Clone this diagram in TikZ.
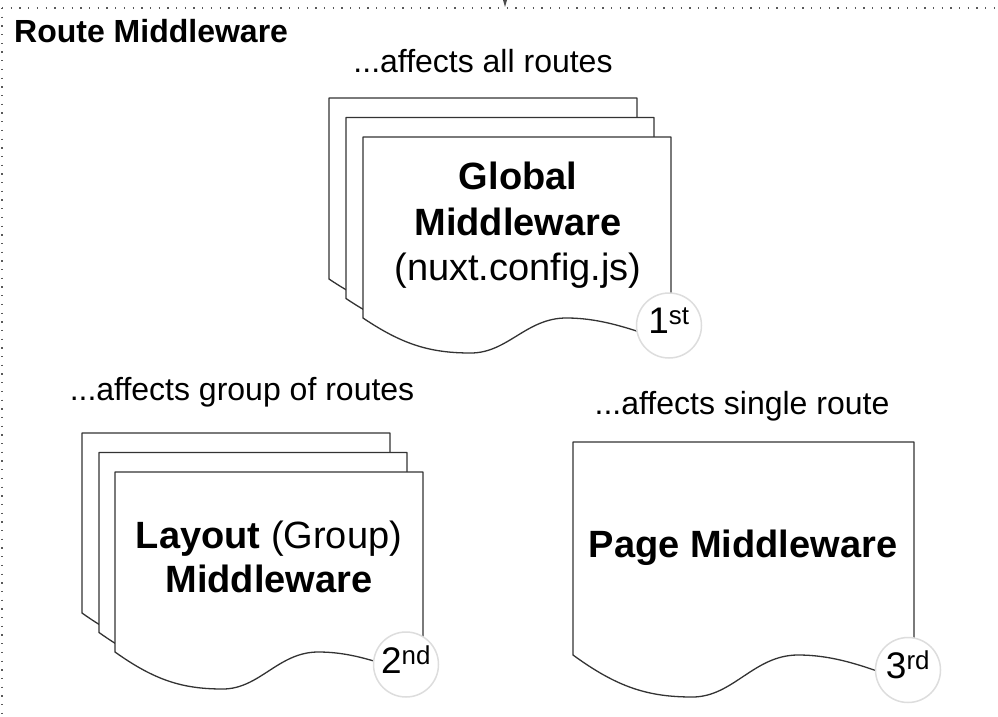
\documentclass[tikz,border=0pt]{standalone}
\usepackage{fontspec}
\setmainfont{Liberation Sans}

\definecolor{pageline}{HTML}{333333}
\definecolor{badgeline}{HTML}{DDDDDD}

\tikzset{
  docline/.style={draw=pageline, fill=white, line width=1.3pt, line join=round},
  frame/.style={draw=black!65, line width=1.3pt, dash pattern=on 1.3pt off 7.4pt},
  badge/.style={circle, draw=badgeline, fill=white, line width=1.5pt, minimum size=65pt,
    inner sep=0pt, font=\fontsize{37}{44}\selectfont, text depth=10pt},
  boxtext/.style={anchor=base, inner sep=0pt, font=\fontsize{38}{45}\selectfont},
  note/.style={anchor=base, inner sep=0pt, font=\fontsize{32}{38}\selectfont},
}

% page with a wavy bottom: left, top, width, height at left, wave depth
\newcommand{\docpage}[5]{%
  \draw[docline] (#1,#2) -- ({#1+#3},#2) -- ({#1+#3},{#2+#4+0.7*#5})
    .. controls ({#1+0.88*#3},{#2+#4+0.35*#5}) and ({#1+0.78*#3},{#2+#4}) .. ({#1+0.66*#3},{#2+#4})
    .. controls ({#1+0.53*#3},{#2+#4}) and ({#1+0.47*#3},{#2+#4+#5}) .. ({#1+0.35*#3},{#2+#4+#5})
    .. controls ({#1+0.22*#3},{#2+#4+#5}) and ({#1+0.13*#3},{#2+#4+0.77*#5}) .. (#1,{#2+#4})
    -- cycle;}

\begin{document}
\begin{tikzpicture}[x=1pt, y=-1pt]
    \useasboundingbox (0,0) rectangle (998,717);
    \clip (0,0) rectangle (998,717);

    % Outer frame
    \draw[frame] (2,8) -- (1005,8);
    \draw[frame] (2,8) -- (2,725);
    \fill[black!70] (503,0) -- (507,0) -- (505,7) -- cycle;
    \node (title) at (14,43) [anchor=base west, inner sep=0pt, font=\fontsize{32}{38}\selectfont\bfseries] {Route Middleware};

    % Global middleware stack
    \node (allnote) at (483,73) [note] {...affects all routes};
    \docpage{329}{98}{308}{181}{35}
    \docpage{346}{117.5}{308}{181}{35}
    \docpage{363}{137}{308}{181}{35}
    \node (glob1) at (518,189) [boxtext] {\textbf{Global}};
    \node (glob2) at (518,235) [boxtext] {\textbf{Middleware}};
    \node (glob3) at (518,280) [boxtext] {(nuxt.config.js)};
    \node (first) at (669,325.5) [badge] {1\textsuperscript{st}};

    % Layout middleware stack
    \node (groupnote) at (242,400) [note] {...affects group of routes};
    \docpage{82}{433}{308}{180}{37}
    \docpage{99}{452.5}{308}{180}{37}
    \docpage{115}{472}{308}{180}{37}
    \node (lay1) at (269,548) [boxtext] {\textbf{Layout} (Group)};
    \node (lay2) at (269,592) [boxtext] {\textbf{Middleware}};
    \node (second) at (406,664.5) [badge] {2\textsuperscript{nd}};

    % Page middleware
    \node (singlenote) at (742,414) [note] {...affects single route};
    \docpage{573}{442}{341}{213}{42}
    \node (page1) at (743,557) [boxtext] {\textbf{Page Middleware}};
    \node (third) at (908,670) [badge] {3\textsuperscript{rd}};

\end{tikzpicture}
\end{document}
